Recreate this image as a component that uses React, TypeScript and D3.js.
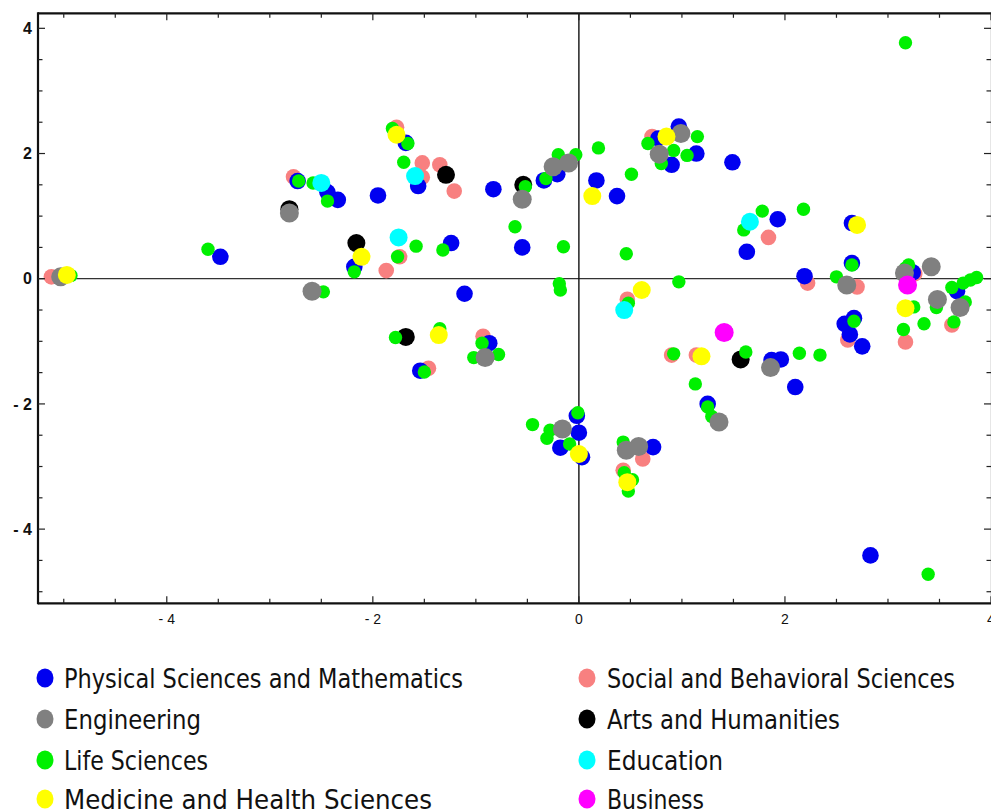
import React from "react";
import * as d3 from "d3";

const categories = [
  "Physical Sciences and Mathematics",
  "Engineering",
  "Life Sciences",
  "Medicine and Health Sciences",
  "Social and Behavioral Sciences",
  "Arts and Humanities",
  "Education",
  "Business",
];

const physical: [number, number][] = [
  [-3.48, 0.35], [-2.73, 1.56], [-2.44, 1.38], [-2.34, 1.26], [-1.95, 1.33], [-1.68, 2.17],
  [-1.56, 1.48], [-0.83, 1.43], [-0.34, 1.57], [-0.21, 1.67], [0.17, 1.57], [0.37, 1.32],
  [0.77, 2.24], [0.97, 2.43], [0.9, 1.82], [1.14, 2.0], [1.49, 1.86], [1.93, 0.95],
  [1.63, 0.43], [2.65, 0.89], [2.65, 0.25], [2.19, 0.04], [3.24, 0.1], [3.67, -0.2],
  [2.58, -0.72], [2.67, -0.63], [2.63, -0.89], [2.75, -1.08], [1.87, -1.3], [1.96, -1.29],
  [2.1, -1.73], [1.25, -2.0], [2.83, -4.42], [-2.18, 0.19], [-1.24, 0.57], [-0.55, 0.5],
  [-1.11, -0.24], [-0.87, -1.03], [-1.54, -1.47], [-0.18, -2.7], [-0.02, -2.19], [0.0, -2.46],
  [0.03, -2.85], [0.72, -2.69],
];

const engineering: [number, number][] = [
  [-5.03, 0.03], [-2.81, 1.05], [-0.55, 1.27], [-0.25, 1.79], [-0.1, 1.85], [0.99, 2.32],
  [0.78, 1.99], [-2.59, -0.2], [-0.91, -1.26], [2.6, -0.1], [3.16, 0.09], [3.42, 0.19],
  [3.48, -0.33], [3.7, -0.46], [1.86, -1.42], [1.36, -2.29], [-0.16, -2.4], [0.46, -2.74],
  [0.58, -2.68],
];

const life: [number, number][] = [
  [-4.93, 0.05], [-3.6, 0.47], [-2.72, 1.56], [-2.58, 1.53], [-2.44, 1.24], [-1.81, 2.4],
  [-1.66, 2.16], [-1.7, 1.86], [-0.52, 1.47], [-0.32, 1.6], [-0.2, 1.98], [-0.03, 1.98],
  [0.19, 2.09], [0.51, 1.67], [-0.62, 0.83], [0.67, 2.16], [1.15, 2.27], [0.8, 1.84],
  [0.92, 2.05], [1.05, 1.97], [1.78, 1.08], [1.6, 0.78], [2.18, 1.11], [2.65, 0.22],
  [3.17, 3.77], [0.97, -0.05], [2.5, 0.03], [3.2, 0.22], [3.17, 0.17], [3.25, -0.45],
  [3.15, -0.81], [3.35, -0.72], [3.47, -0.46], [3.62, -0.14], [3.75, -0.37], [3.64, -0.69],
  [3.73, -0.07], [3.8, -0.02], [3.86, 0.02], [2.67, -0.68], [2.14, -1.19], [2.34, -1.22],
  [1.43, -0.84], [0.92, -1.2], [1.62, -1.17], [1.13, -1.68], [1.25, -2.05], [1.29, -2.2],
  [3.39, -4.72], [-1.78, -0.94], [-1.35, -0.8], [-0.94, -1.03], [-1.02, -1.26], [-0.78, -1.21],
  [-1.5, -1.49], [0.48, -0.39], [-0.45, -2.33], [-0.28, -2.42], [-0.31, -2.55], [-0.09, -2.64],
  [-0.01, -2.14], [0.43, -2.61], [0.44, -3.1], [0.52, -3.21], [0.48, -3.39], [-2.18, 0.11],
  [-1.76, 0.35], [-1.58, 0.52], [-1.32, 0.46], [-0.15, 0.51], [0.46, 0.4], [-0.19, -0.08],
  [-0.18, -0.18], [-2.48, -0.21],
];

const medicine: [number, number][] = [
  [-4.97, 0.06], [-1.77, 2.3], [0.13, 1.32], [0.85, 2.27], [2.7, 0.86], [-2.11, 0.35],
  [-1.36, -0.9], [0.61, -0.18], [1.19, -1.24], [3.17, -0.47], [0.0, -2.8], [0.47, -3.25],
];

const social: [number, number][] = [
  [-5.12, 0.03], [-2.77, 1.63], [-1.77, 2.42], [-1.52, 1.85], [-1.35, 1.82], [-1.21, 1.4],
  [-1.52, 1.62], [0.71, 2.27], [1.84, 0.66], [2.22, -0.07], [2.7, -0.13], [3.26, 0.08],
  [3.17, -1.01], [3.62, -0.74], [2.61, -0.98], [-1.87, 0.13], [-1.74, 0.35], [-0.93, -0.92],
  [-1.46, -1.43], [0.9, -1.22], [1.14, -1.22], [0.47, -0.33], [0.62, -2.88], [0.43, -3.06],
];

const arts: [number, number][] = [
  [-2.81, 1.11], [-1.29, 1.66], [-0.54, 1.5], [-2.16, 0.57], [-1.68, -0.93], [1.57, -1.29],
];

const education: [number, number][] = [
  [-2.5, 1.53], [-1.59, 1.64], [-1.75, 0.66], [1.66, 0.91], [0.44, -0.5],
];

const business: [number, number][] = [
  [1.41, -0.86], [3.19, -0.1],
];

const xTickLabels = ["- 4", "- 2", "0", "2", "4"];
const yTickLabels = ["4", "2", "0", "- 2", "- 4"];
const majorX = [-4, -2, 0, 2, 4];
const majorY = [4, 2, 0, -2, -4];

const colors: Record<string, string> = {
  "Physical Sciences and Mathematics": "#0000f0",
  Engineering: "#808080",
  "Life Sciences": "#00f000",
  "Medicine and Health Sciences": "#ffff00",
  "Social and Behavioral Sciences": "#f88080",
  "Arts and Humanities": "#000000",
  Education: "#00ffff",
  Business: "#ff00ff",
};

const radii: Record<string, number> = {
  "Physical Sciences and Mathematics": 8.3,
  Engineering: 9.5,
  "Life Sciences": 6.7,
  "Medicine and Health Sciences": 9,
  "Social and Behavioral Sciences": 7.8,
  "Arts and Humanities": 9,
  Education: 9,
  Business: 9.5,
};

// rendered widths of the legend labels (layout only)
const legendWidths: Record<string, number> = {
  "Physical Sciences and Mathematics": 399,
  Engineering: 137,
  "Life Sciences": 144,
  "Medicine and Health Sciences": 368,
  "Social and Behavioral Sciences": 348,
  "Arts and Humanities": 233,
  Education: 116,
  Business: 97,
};

const seriesData: Record<string, [number, number][]> = {
  "Physical Sciences and Mathematics": physical,
  Engineering: engineering,
  "Life Sciences": life,
  "Medicine and Health Sciences": medicine,
  "Social and Behavioral Sciences": social,
  "Arts and Humanities": arts,
  Education: education,
  Business: business,
};

const drawOrder = [
  "Social and Behavioral Sciences",
  "Physical Sciences and Mathematics",
  "Arts and Humanities",
  "Life Sciences",
  "Engineering",
  "Education",
  "Medicine and Health Sciences",
  "Business",
];

export default function App() {
  const W = 991;
  const H = 812;
  const left = 38;
  const right = 991;
  const top = 13.3;
  const bottom = 603.3;
  const x = d3.scaleLinear().domain([-5.25, 4.0]).range([left, right]);
  const y = d3.scaleLinear().domain([-5.185, 4.24]).range([bottom, top]);

  const minorX = d3.range(-5, 4.01, 0.5);
  const minorY = d3.range(-5, 4.01, 0.5);
  const isMajor = (v: number) => Math.abs(v / 2 - Math.round(v / 2)) < 1e-6;

  const legendLeft = categories.slice(0, 4);
  const legendRight = categories.slice(4);
  const rowY = [678, 719, 760, 799];

  const legendText = (cat: string, tx: number, ty: number) => (
    <text
      x={tx}
      y={ty}
      dy="0.36em"
      fontFamily="'DejaVu Sans Condensed', 'DejaVu Sans', sans-serif"
      fontSize={27}
      textLength={legendWidths[cat]}
      lengthAdjust="spacingAndGlyphs"
      fill="#111"
    >
      {cat}
    </text>
  );

  return (
    <svg
      width={W}
      height={H}
      style={{ position: "absolute", left: 0, top: 0, background: "#fff" }}
    >
      <rect x={0} y={0} width={W} height={H} fill="#fff" />
      {/* zero lines */}
      <line x1={left} x2={right} y1={y(0)} y2={y(0)} stroke="#333" strokeWidth={1.2} />
      <line x1={x(0)} x2={x(0)} y1={top} y2={bottom} stroke="#111" strokeWidth={1.4} />

      {/* points */}
      {drawOrder.map((cat) =>
        seriesData[cat].map((d, i) => (
          <circle
            key={cat + i}
            cx={x(d[0])}
            cy={y(d[1])}
            r={radii[cat]}
            fill={colors[cat]}
          />
        ))
      )}

      {/* frame */}
      <line x1={left} x2={left} y1={top - 1} y2={bottom + 1} stroke="#111" strokeWidth={2.2} />
      <line x1={left} x2={right + 2} y1={top} y2={top} stroke="#111" strokeWidth={2.2} />
      <line x1={left} x2={right + 2} y1={bottom} y2={bottom} stroke="#111" strokeWidth={2.2} />
      <line x1={right + 1} x2={right + 1} y1={top} y2={bottom} stroke="#111" strokeWidth={2.2} />

      {/* x ticks */}
      {minorX.map((v) => {
        const len = isMajor(v) ? 7 : 4.5;
        return (
          <g key={"xt" + v}>
            <line x1={x(v)} x2={x(v)} y1={top} y2={top + len} stroke="#222" strokeWidth={1.2} />
            <line x1={x(v)} x2={x(v)} y1={bottom} y2={bottom - len} stroke="#222" strokeWidth={1.2} />
          </g>
        );
      })}
      {/* y ticks */}
      {minorY.map((v) => {
        const len = isMajor(v) ? 7 : 4.5;
        return (
          <g key={"yt" + v}>
            <line x1={left} x2={left + len} y1={y(v)} y2={y(v)} stroke="#222" strokeWidth={1.2} />
            <line x1={right} x2={right - len} y1={y(v)} y2={y(v)} stroke="#222" strokeWidth={1.2} />
          </g>
        );
      })}

      {/* x tick labels */}
      {majorX.map((v, i) => (
        <text
          key={"xl" + v}
          x={x(v)}
          y={624}
          textAnchor="middle"
          fontFamily="'Liberation Sans', Arial, sans-serif"
          fontSize={14}
          fill="#111"
        >
          {xTickLabels[i]}
        </text>
      ))}
      {/* y tick labels */}
      {majorY.map((v, i) => (
        <text
          key={"yl" + v}
          x={32}
          y={y(v)}
          dy="0.35em"
          textAnchor="end"
          fontFamily="'Liberation Sans', Arial, sans-serif"
          fontWeight="bold"
          fontSize={16}
          fill="#111"
        >
          {yTickLabels[i]}
        </text>
      ))}

      {/* legend */}
      {legendLeft.map((cat, i) => (
        <g key={"ll" + cat}>
          <ellipse cx={45} cy={rowY[i]} rx={8.5} ry={9.5} fill={colors[cat]} />
          {legendText(cat, 64, rowY[i])}
        </g>
      ))}
      {legendRight.map((cat, i) => (
        <g key={"lr" + cat}>
          <ellipse cx={587} cy={rowY[i]} rx={8.5} ry={9.5} fill={colors[cat]} />
          {legendText(cat, 607, rowY[i])}
        </g>
      ))}
    </svg>
  );
}
